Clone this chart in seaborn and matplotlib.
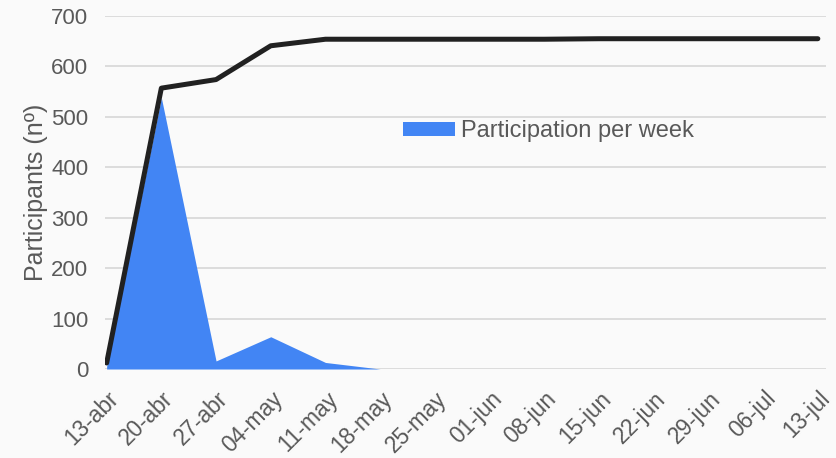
import matplotlib
matplotlib.use("Agg")
import matplotlib.pyplot as plt
import matplotlib.transforms as mtransforms
import seaborn as sns
import pandas as pd
from matplotlib.patches import Patch

weeks = ["13-abr", "20-abr", "27-abr", "04-may", "11-may", "18-may", "25-may",
         "01-jun", "08-jun", "15-jun", "22-jun", "29-jun", "06-jul", "13-jul"]
weekly = [5, 538, 16, 64, 13, 0, 0, 0, 0, 0, 0, 0, 0, 0]
cumulative = [12, 557, 574, 641, 654, 654, 654, 654, 654, 655, 655, 655, 655, 655]
y_ticks = [0, 100, 200, 300, 400, 500, 600, 700]

df = pd.DataFrame({"week": weeks, "pos": range(len(weeks)),
                   "weekly": weekly, "cumulative": cumulative})

sns.set_theme(style="white")
plt.rcParams["font.family"] = ["Liberation Sans", "DejaVu Sans"]

text_col = "#595959"
bg = "#fafafa"

fig = plt.figure(figsize=(8.36, 4.58), dpi=100, facecolor=bg)
ax = fig.add_axes([0.1256, 0.1943, 0.8625, 0.7707])
ax.set_facecolor(bg)

for y in y_ticks:
    ax.axhline(y, color="#d9d9d9", lw=1.3, zorder=0)

ax.fill_between(df["pos"], 0, df["weekly"], color="#4285f4", lw=0, zorder=2)
sns.lineplot(data=df, x="pos", y="cumulative", ax=ax, color="#212121",
             lw=3.6, solid_capstyle="round", zorder=3)

ax.set_xlim(-0.03, 13.15)
ax.set_ylim(0, 700)
ax.set_yticks(y_ticks)
ax.set_yticklabels([str(v) for v in y_ticks], fontsize=16, color=text_col)
ax.set_xticks(df["pos"])
ax.set_xticklabels(weeks, rotation=45, ha="right", va="top",
                   rotation_mode="anchor", fontsize=16.3, color=text_col)
ax.tick_params(axis="x", length=6, width=1.2, color="#d9d9d9", pad=7, direction="out")
ax.tick_params(axis="y", length=0, pad=12)
shift = mtransforms.ScaledTranslation(0.005, 0, fig.dpi_scale_trans)
for lab in ax.get_xticklabels():
    lab.set_transform(lab.get_transform() + shift)
for s in ax.spines.values():
    s.set_visible(False)

ax.set_xlabel("")
ax.set_ylabel("Participants (nº)", fontsize=18, color=text_col, labelpad=2)

handle = Patch(facecolor="#4285f4", edgecolor="none")
ax.legend([handle], ["Participation per week"], loc="center left",
          bbox_to_anchor=(0.413, 0.674), frameon=False, fontsize=17,
          labelcolor=text_col, handlelength=2.2, handleheight=0.55,
          handletextpad=0.25, borderpad=0, borderaxespad=0)

fig.savefig("out.png", dpi=100, facecolor=bg)
